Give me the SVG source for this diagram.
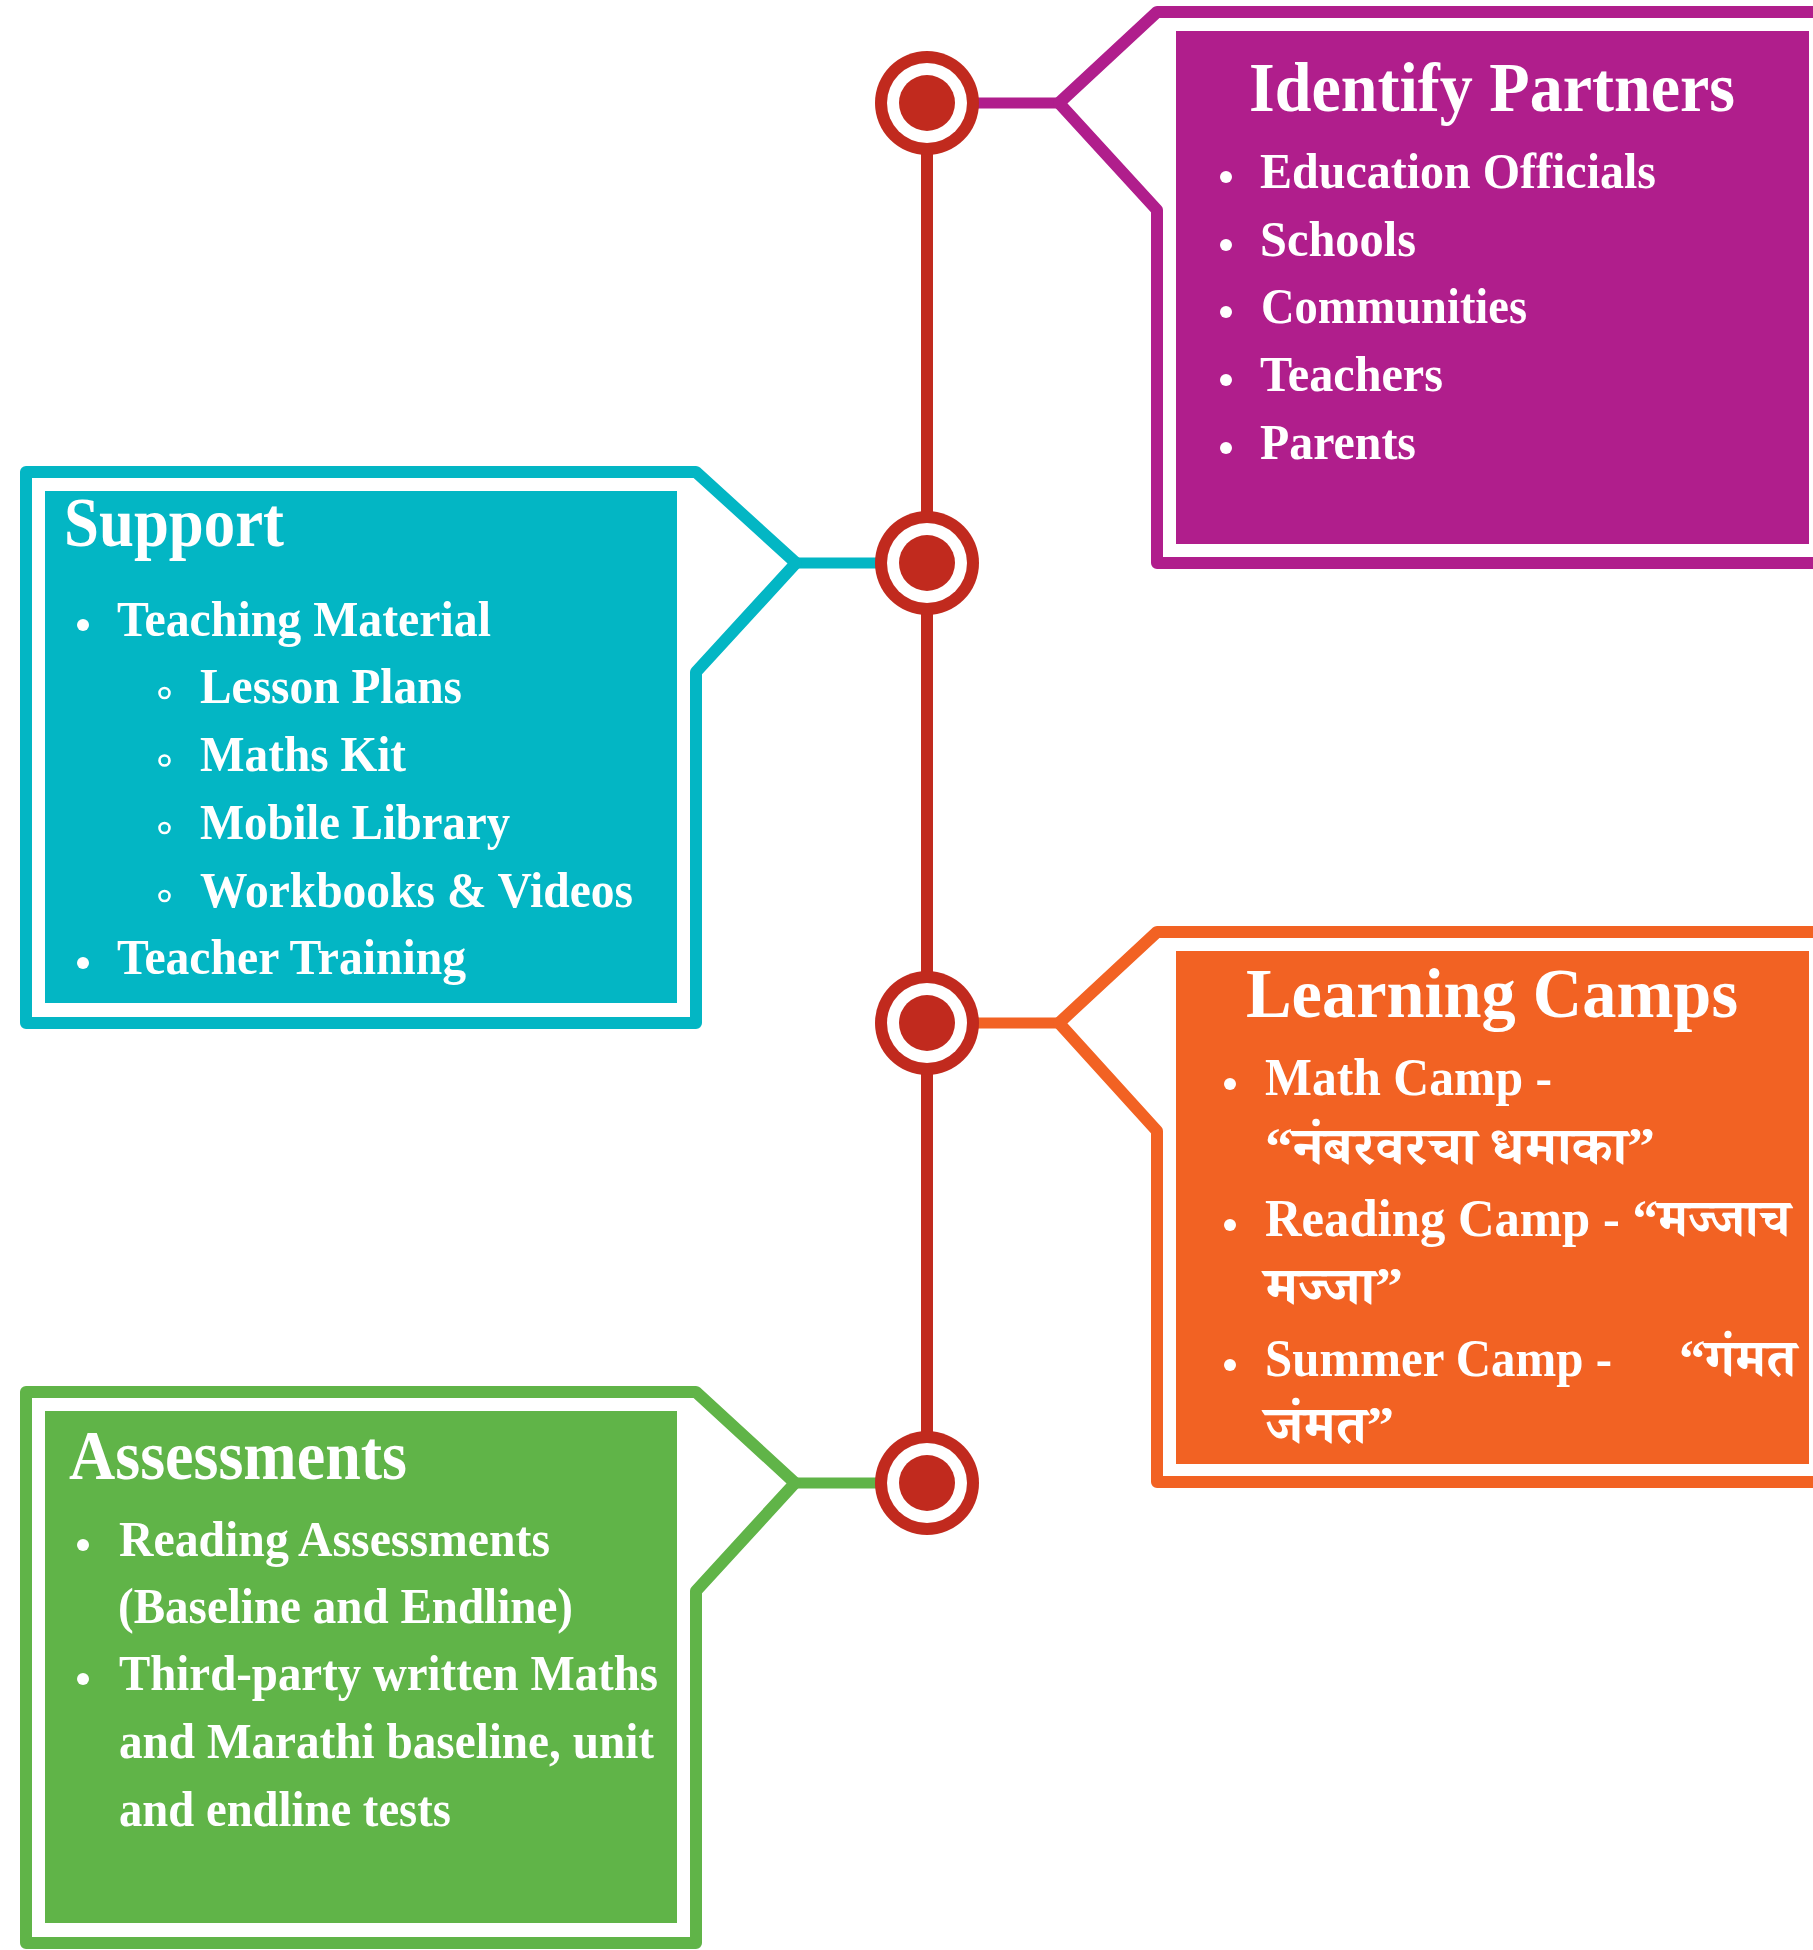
<svg xmlns="http://www.w3.org/2000/svg" width="1813" height="1950" viewBox="0 0 1813 1950">
<style>
.frame{fill:none;stroke-width:12;stroke-linejoin:round}
.conn{fill:none;stroke-width:11}
.t{font-family:"Liberation Serif","Times New Roman","Noto Serif Devanagari","Noto Sans Devanagari","Lohit Devanagari",serif;font-weight:bold;fill:#ffffff}
.h{font-size:70px}
.b{font-size:50px}
.o{font-size:52px}
.dot{fill:#ffffff}
.ring{fill:none;stroke:#ffffff;stroke-width:2.6}
.pu{stroke:#B01E8C}
.te{stroke:#03B6C4}
.or{stroke:#F26223}
.gr{stroke:#60B448}
</style>
<rect width="1813" height="1950" fill="#ffffff"/>

<g id="connectors">
<line x1="927" y1="103" x2="927" y2="1483" stroke="#C12A1E" stroke-width="12"/>
<path class="conn pu" d="M975 103 H1060"/>
<path class="conn te" d="M795 563 H880"/>
<path class="conn or" d="M975 1023 H1060"/>
<path class="conn gr" d="M795 1483 H880"/>
</g>

<g id="timeline-dots">
<g id="dot1"><circle cx="927" cy="103" r="52" fill="#C12A1E"/><circle cx="927" cy="103" r="40" fill="#ffffff"/><circle cx="927" cy="103" r="28" fill="#C12A1E"/></g>
<g id="dot2"><circle cx="927" cy="563" r="52" fill="#C12A1E"/><circle cx="927" cy="563" r="40" fill="#ffffff"/><circle cx="927" cy="563" r="28" fill="#C12A1E"/></g>
<g id="dot3"><circle cx="927" cy="1023" r="52" fill="#C12A1E"/><circle cx="927" cy="1023" r="40" fill="#ffffff"/><circle cx="927" cy="1023" r="28" fill="#C12A1E"/></g>
<g id="dot4"><circle cx="927" cy="1483" r="52" fill="#C12A1E"/><circle cx="927" cy="1483" r="40" fill="#ffffff"/><circle cx="927" cy="1483" r="28" fill="#C12A1E"/></g>
</g>

<g id="identify-partners">
<path class="frame pu" d="M1813 12 H1157 L1059 103 L1157 210 V563 H1813"/>
<rect x="1176" y="31" width="633" height="513" fill="#B01E8C"/>
<text class="t h" x="1249" y="111" textLength="486" lengthAdjust="spacingAndGlyphs">Identify Partners</text>
<circle class="dot" cx="1226" cy="177" r="6"/>
<circle class="dot" cx="1226" cy="245" r="6"/>
<circle class="dot" cx="1226" cy="312" r="6"/>
<circle class="dot" cx="1226" cy="380" r="6"/>
<circle class="dot" cx="1226" cy="448" r="6"/>
<text class="t b" x="1260" y="188" textLength="396" lengthAdjust="spacingAndGlyphs">Education Officials</text>
<text class="t b" x="1260" y="256" textLength="156" lengthAdjust="spacingAndGlyphs">Schools</text>
<text class="t b" x="1261" y="323" textLength="266" lengthAdjust="spacingAndGlyphs">Communities</text>
<text class="t b" x="1260" y="391" textLength="183" lengthAdjust="spacingAndGlyphs">Teachers</text>
<text class="t b" x="1260" y="459" textLength="156" lengthAdjust="spacingAndGlyphs">Parents</text>
</g>

<g id="support">
<path class="frame te" d="M696 472 H26 V1023 H696 V672 L796 563 Z"/>
<rect x="45" y="491" width="632" height="512" fill="#03B6C4"/>
<text class="t h" x="64" y="546" textLength="220" lengthAdjust="spacingAndGlyphs">Support</text>
<circle class="dot" cx="83" cy="625" r="6"/>
<circle class="ring" cx="164.5" cy="693" r="5"/>
<circle class="ring" cx="164.5" cy="760.5" r="5"/>
<circle class="ring" cx="164.5" cy="828" r="5"/>
<circle class="ring" cx="164.5" cy="896" r="5"/>
<circle class="dot" cx="83" cy="963" r="6"/>
<text class="t b" x="117" y="636" textLength="374" lengthAdjust="spacingAndGlyphs">Teaching Material</text>
<text class="t b" x="200" y="703" textLength="262" lengthAdjust="spacingAndGlyphs">Lesson Plans</text>
<text class="t b" x="200" y="771" textLength="206" lengthAdjust="spacingAndGlyphs">Maths Kit</text>
<text class="t b" x="200" y="838.5" textLength="310" lengthAdjust="spacingAndGlyphs">Mobile Library</text>
<text class="t b" x="200" y="906.5" textLength="433" lengthAdjust="spacingAndGlyphs">Workbooks &amp; Videos</text>
<text class="t b" x="117" y="974" textLength="349" lengthAdjust="spacingAndGlyphs">Teacher Training</text>
</g>

<g id="learning-camps">
<path class="frame or" d="M1813 932 H1157 L1059 1023 L1157 1131 V1482 H1813"/>
<rect x="1176" y="951" width="633" height="513" fill="#F26223"/>
<text class="t h" x="1246" y="1017" textLength="492" lengthAdjust="spacingAndGlyphs">Learning Camps</text>
<circle class="dot" cx="1230" cy="1084" r="6"/>
<circle class="dot" cx="1230" cy="1225" r="6"/>
<circle class="dot" cx="1230" cy="1365" r="6"/>
<text class="t o" x="1265" y="1095" textLength="287" lengthAdjust="spacingAndGlyphs">Math Camp -</text>
<text class="t o" x="1265" y="1164" textLength="390" lengthAdjust="spacingAndGlyphs">“नंबरवरचा धमाका”</text>
<text class="t o" x="1265" y="1236" textLength="525" lengthAdjust="spacingAndGlyphs">Reading Camp - “मज्जाच</text>
<text class="t o" x="1265" y="1304" textLength="138" lengthAdjust="spacingAndGlyphs">मज्जा”</text>
<text class="t o" y="1376"><tspan x="1265" textLength="347" lengthAdjust="spacingAndGlyphs">Summer Camp -</tspan><tspan x="1679" textLength="117" lengthAdjust="spacingAndGlyphs">“गंमत</tspan></text>
<text class="t o" x="1265" y="1443" textLength="129" lengthAdjust="spacingAndGlyphs">जंमत”</text>
</g>

<g id="assessments">
<path class="frame gr" d="M696 1392 H26 V1943 H696 V1591 L795 1483 Z"/>
<rect x="45" y="1411" width="632" height="512" fill="#60B448"/>
<text class="t h" x="69" y="1479" textLength="338" lengthAdjust="spacingAndGlyphs">Assessments</text>
<circle class="dot" cx="83" cy="1545" r="6"/>
<circle class="dot" cx="83" cy="1679" r="6"/>
<text class="t b" x="119" y="1556" textLength="431" lengthAdjust="spacingAndGlyphs">Reading Assessments</text>
<text class="t b" x="118" y="1622.5" textLength="455" lengthAdjust="spacingAndGlyphs">(Baseline and Endline)</text>
<text class="t b" x="119" y="1690" textLength="539" lengthAdjust="spacingAndGlyphs">Third-party written Maths</text>
<text class="t b" x="119" y="1757.5" textLength="535" lengthAdjust="spacingAndGlyphs">and Marathi baseline, unit</text>
<text class="t b" x="119" y="1825.5" textLength="332" lengthAdjust="spacingAndGlyphs">and endline tests</text>
</g>
</svg>
